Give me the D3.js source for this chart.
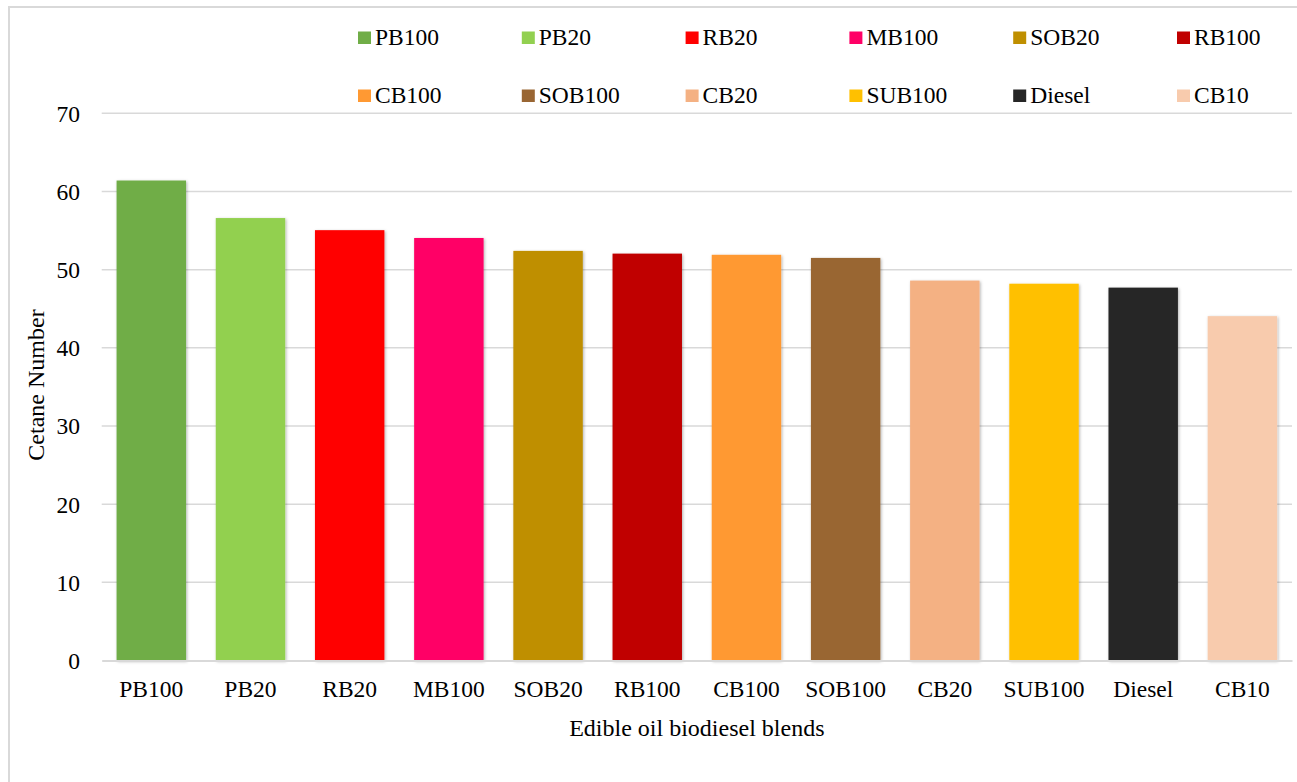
<!DOCTYPE html>
<html>
<head>
<meta charset="utf-8">
<script src="https://cdn.jsdelivr.net/npm/d3@7"></script>
<style>
  html, body { margin: 0; padding: 0; background: #fff; }
  svg { display: block; }
  text { font-family: "Liberation Serif", "Times New Roman", serif; fill: #000; }
</style>
</head>
<body>
<svg id="chart" width="1297" height="782"></svg>
<script>
// Cetane number of edible oil biodiesel blends
const categories = ["PB100", "PB20", "RB20", "MB100", "SOB20", "RB100",
                    "CB100", "SOB100", "CB20", "SUB100", "Diesel", "CB10"];
const cetaneValues = [61.4, 56.6, 55.05, 54.05, 52.4, 52.05, 51.9, 51.5, 48.6, 48.2, 47.7, 44.05];
const barColors = ["#70AD47", "#92D050", "#FF0000", "#FF0066", "#BF8F00", "#C00000",
                   "#FF9933", "#996633", "#F4B183", "#FFC000", "#262626", "#F8CBAD"];
const yTicks = [0, 10, 20, 30, 40, 50, 60, 70];
const yTitle = "Cetane Number";
const xTitle = "Edible oil biodiesel blends";

const svg = d3.select("#chart");
const W = 1297, H = 782;

// outer frame
svg.append("rect")
  .attr("x", 9).attr("y", 7).attr("width", W + 20).attr("height", H + 20)
  .attr("fill", "none").attr("stroke", "#d9d9d9").attr("stroke-width", 2);

const plot = { left: 101.7, right: 1292, top: 113.3, bottom: 660.5 };

const x = d3.scaleBand()
  .domain(categories)
  .range([plot.left, plot.right])
  .paddingInner(0.3)
  .paddingOuter(0.15);

const y = d3.scaleLinear()
  .domain([0, 70])
  .range([plot.bottom, plot.top]);

// bar shadow
const defs = svg.append("defs");
const f = defs.append("filter").attr("id", "barShadow")
  .attr("x", "-10%").attr("y", "-10%").attr("width", "125%").attr("height", "125%");
f.append("feDropShadow")
  .attr("dx", 1).attr("dy", 1).attr("stdDeviation", 1.6)
  .attr("flood-color", "#000").attr("flood-opacity", 0.3);

// gridlines
svg.append("g")
  .selectAll("line")
  .data(yTicks.filter(d => d > 0))
  .join("line")
  .attr("x1", plot.left).attr("x2", plot.right)
  .attr("y1", d => y(d)).attr("y2", d => y(d))
  .attr("stroke", "#d9d9d9").attr("stroke-width", 1.5);

// y axis labels
const yAxis = d3.axisLeft(y).tickValues(yTicks).tickSize(0).tickPadding(0).tickFormat(d3.format("d"));
const gy = svg.append("g").attr("transform", `translate(80,0)`).call(yAxis);
gy.select(".domain").remove();
gy.selectAll("text")
  .attr("font-size", 23.5)
  .attr("font-family", "Liberation Serif, Times New Roman, serif")
  .attr("fill", "#000")
  .attr("dy", "0.34em");

// bars
svg.append("g")
  .selectAll("rect")
  .data(categories.map((c, i) => ({ c, v: cetaneValues[i], color: barColors[i] })))
  .join("rect")
  .attr("x", d => x(d.c))
  .attr("y", d => y(d.v))
  .attr("width", x.bandwidth())
  .attr("height", d => y(0) - y(d.v))
  .attr("fill", d => d.color)
  .attr("filter", "url(#barShadow)");

// x axis baseline and labels
const xAxis = d3.axisBottom(x).tickSize(0).tickPadding(0);
const gx = svg.append("g").attr("transform", `translate(0,${plot.bottom})`).call(xAxis);
gx.select(".domain").attr("stroke", "#d9d9d9").attr("stroke-width", 2);
gx.selectAll("text")
  .attr("font-size", 23.5)
  .attr("font-family", "Liberation Serif, Times New Roman, serif")
  .attr("fill", "#000")
  .attr("y", 36.5)
  .attr("dy", 0);

// axis titles
svg.append("text")
  .attr("x", (plot.left + plot.right) / 2).attr("y", 736)
  .attr("text-anchor", "middle")
  .attr("font-size", 24)
  .text(xTitle);

svg.append("text")
  .attr("transform", "translate(44,385) rotate(-90)")
  .attr("text-anchor", "middle")
  .attr("font-size", 24)
  .text(yTitle);

// legend: two rows of six
const legend = svg.append("g");
const item = legend.selectAll("g")
  .data(categories.map((c, i) => ({ c, i, color: barColors[i] })))
  .join("g")
  .attr("transform", d => `translate(${358 + (d.i % 6) * 163.8},${d.i < 6 ? 45 : 103})`);
item.append("rect")
  .attr("x", 0).attr("y", -13.5).attr("width", 13).attr("height", 12.5)
  .attr("fill", d => d.color);
item.append("text")
  .attr("x", 17).attr("y", 0)
  .attr("font-size", 23.5)
  .text(d => d.c);
</script>
</body>
</html>
